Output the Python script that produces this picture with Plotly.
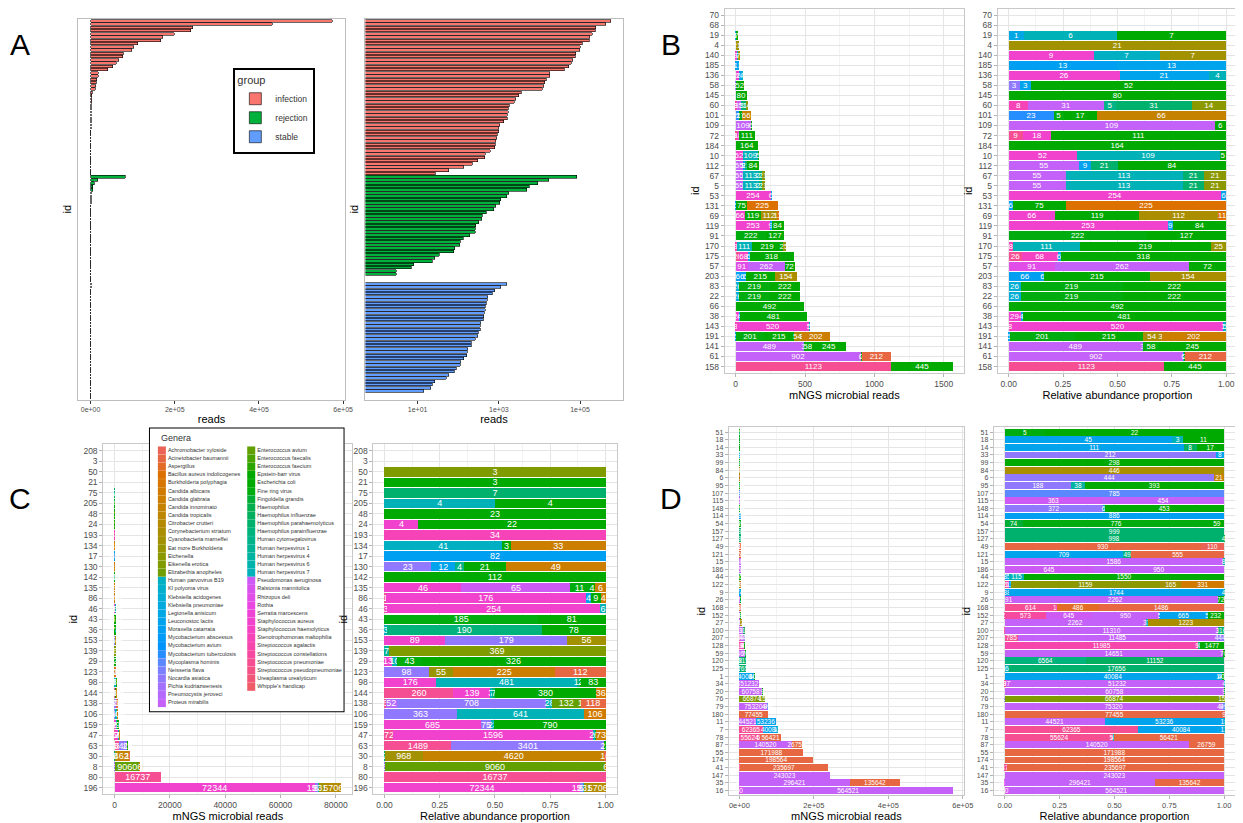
import math
import plotly.graph_objects as go

W, H = 1243, 823
FONT = "Liberation Sans, Arial, sans-serif"

# ---------------- genera (legend order) ----------------
GENERA = [
    "Achromobacter xyloside", "Acinetobacter baumannii", "Aspergillus", "Bacillus aureus indolicogenes",
    "Burkholderia polyphagia", "Candida albicans", "Candida glabrata", "Candida innominato",
    "Candida tropicalis", "Citrobacter crutteri", "Corynebacterium striatum", "Cyanobacteria marneffei",
    "Eat more Burkholderia", "Eichenella", "Eikenella erotica", "Elizabethia anopheles",
    "Enterococcus avium", "Enterococcus faecalis", "Enterococcus faecium", "Epstein-barr virus",
    "Escherichia coli", "Fine ring virus", "Fingoldella grandis", "Haemophilus",
    "Haemophilus influenzae", "Haemophilus parahaemolyticus", "Haemophilus parainfluenzae", "Human cytomegalovirus",
    "Human herpesvirus 1", "Human herpesvirus 4", "Human herpesvirus 6", "Human herpesvirus 7",
    "Human parvovirus B19", "KI polyoma virus", "Klebsiella acidogenes", "Klebsiella pneumoniae",
    "Legionella anisicum", "Leuconostoc lactis", "Moraxella catarrata", "Mycobacterium abscessus",
    "Mycobacterium avium", "Mycobacterium tuberculosis", "Mycoplasma hominis", "Neisseria flava",
    "Nocardia asiatica", "Pichia kudriazwenesis", "Pneumocystis jeroveci", "Proteus mirabilis",
    "Pseudomonas aeruginosa", "Ralstonia mannitolica", "Rhizopus deli", "Rothia",
    "Serratia marcescens", "Staphylococcus aureus", "Staphylococcus haemolyticus", "Stenotrophomonas maltophilia",
    "Streptococcus agalactis", "Streptococcus constellations", "Streptococcus pneumoniae",
    "Streptococcus pseudopneumoniae", "Ureaplasma urealyticum", "Whipple's handicap",
]

# ---------------- panel B (stable) ----------------
b_ids = ["70", "68", "19", "4", "140", "185", "136", "58", "145", "60", "101", "109", "72", "184", "10",
         "112", "67", "5", "53", "131", "69", "119", "91", "170", "175", "57", "203", "83", "22", "66",
         "38", "143", "191", "141", "61", "158"]
b_gen = [[], [], [36, 31, 20], [11], [53, 32, 11], [38, 37], [53, 37, 31], [44, 37, 20], [20],
         [55, 47, 27, 25, 13], [41, 21, 20, 7], [47, 20], [58, 53, 20], [20], [53, 31, 20],
         [47, 37, 25, 20], [47, 31, 25, 13], [47, 31, 25, 13], [53, 37], [37, 20, 3], [53, 20, 10, 3],
         [53, 37, 20], [21, 20], [55, 31, 20, 12], [58, 54, 37, 20], [50, 47, 20], [38, 36, 20, 10],
         [34, 21, 20], [34, 21, 20], [20], [53, 37, 20], [55, 53, 37, 31], [37, 21, 20, 10, 8, 6],
         [47, 44, 21, 20], [47, 31, 20, 1], [58, 20]]
b_val = [[], [], [1, 6, 7], [21], [9, 7, 7], [13, 13], [26, 21, 4], [3, 3, 52], [80],
         [8, 31, 5, 31, 14], [23, 5, 17, 66], [109, 6], [9, 18, 111], [164], [52, 109, 5],
         [55, 9, 21, 84], [55, 113, 21, 21], [55, 113, 21, 21], [254, 6], [6, 75, 225], [66, 119, 112, 11],
         [253, 9, 84], [222, 127], [8, 111, 219, 25], [26, 68, 6, 318], [91, 262, 72], [66, 6, 215, 154],
         [26, 219, 222], [26, 219, 222], [492], [29, 4, 481], [8, 520, 1, 5], [5, 201, 215, 54, 3, 202],
         [489, 3, 58, 245], [902, 6, 2, 212], [1123, 445]]

# ---------------- panel C (rejection) ----------------
c_ids = ["208", "3", "50", "21", "75", "205", "48", "24", "193", "134", "17", "130", "142", "135", "86",
         "46", "43", "36", "153", "139", "29", "123", "98", "144", "138", "106", "159", "47", "63", "30",
         "8", "80", "196"]
c_gen = [[], [], [14], [20], [25], [31, 20], [20], [53, 20], [55], [32, 20, 6], [38], [44, 37, 27, 20, 6],
         [20], [53, 48, 21, 20, 6], [58, 53, 37, 20, 6], [55, 53, 31], [21, 20], [31, 26, 20], [53, 44, 11],
         [28, 14], [53, 31, 21, 20], [44, 12, 6, 1], [53, 31, 25, 21, 20], [58, 53, 44, 31, 25, 20, 5],
         [58, 46, 44, 31, 16, 14, 1], [44, 31, 5], [53, 44, 31, 20], [58, 53, 31, 20, 6], [58, 44, 31, 20],
         [44, 31, 25, 11, 7, 1], [44, 16, 6], [58], [53, 44, 31, 11, 9]]
c_val = [[], [], [3], [3], [7], [4, 4], [23], [4, 22], [34], [41, 3, 33], [82], [23, 12, 4, 21, 49],
         [112], [46, 65, 11, 4, 6], [1, 176, 4, 9, 4], [3, 254, 6], [185, 81], [3, 190, 78], [89, 179, 56],
         [7, 369], [13, 10, 43, 326], [98, 55, 225, 112], [176, 481, 12, 2, 83], [260, 139, 3, 7, 7, 380, 36],
         [6, 52, 708, 28, 132, 1, 118], [363, 641, 106], [685, 75, 23, 790], [72, 1596, 24, 6, 73],
         [1489, 3401, 2, 23], [4, 2, 2, 968, 4620, 16], [5, 9060, 6], [16737], [72344, 1519, 58, 2318, 5706]]

# ---------------- panel D (infection) ----------------
d_ids = ["51", "18", "14", "33", "99", "84", "6", "95", "107", "115", "148", "114", "54", "157", "127",
         "49", "121", "15", "186", "44", "122", "9", "26", "168", "152", "27", "100", "207", "128", "59",
         "120", "125", "1", "34", "20", "76", "79", "180", "11", "7", "78", "87", "55", "174", "41", "147",
         "35", "16"]
d_gen = [[21, 20], [37, 31, 20], [37, 24, 20], [44, 37], [20], [10], [44, 7], [44, 29, 20], [42], [48, 47],
         [44, 31, 20], [38], [22, 21, 20], [25], [25, 23], [1, 0], [37, 26, 1], [47, 31], [48, 47],
         [36, 31, 20], [58, 53, 37, 13, 11, 5], [38, 37, 31], [48, 47, 20], [58, 54, 2, 1],
         [58, 57, 48, 47, 38, 37, 31, 20], [47, 31, 10], [58, 47, 31, 25], [58, 47, 44], [56, 31, 25, 20],
         [47, 20], [26, 24], [31, 25], [37, 31, 20], [58, 48, 47, 31], [47, 20], [44, 14, 13], [47, 44, 42],
         [1, 0], [47, 37, 31], [58, 37, 31], [58, 44, 31, 1], [47, 1], [44, 1], [1], [58, 1], [47],
         [49, 47, 1], [49, 47]]
d_val = [[5, 22], [45, 3, 11], [111, 8, 17], [212, 8], [298], [446], [444, 21], [188, 38, 393], [785],
         [363, 454], [372, 6, 453], [886], [74, 776, 59], [999], [998, 4], [930, 110], [709, 49, 555],
         [1586, 8], [645, 950], [35, 115, 1550], [21, 16, 11, 1159, 165, 331], [38, 1744, 4], [91, 2262, 72],
         [614, 10, 486, 1486], [6, 573, 645, 950, 5, 665, 5, 232], [2262, 37, 1223], [23, 11310, 3, 316],
         [785, 11485, 444], [11985, 1, 98, 1477], [14651, 70], [6564, 11152], [364, 17656], [40084, 144, 400],
         [397, 977, 51232, 4], [60758, 9], [5, 66874, 154], [75320, 440, 99], [77455, 9], [44521, 53236, 18],
         [62365, 40084, 13], [55624, 4, 58, 56421], [140520, 26759], [4, 171988], [198564], [1878, 235697],
         [243023], [89, 296421, 135642], [10072, 564521]]

# groups for panel A
group_names = ["infection", "rejection", "stable"]
group_colors = ["#F8766D", "#00B13C", "#619CFF"]

# axis tick labels
a_lin_ticks = [0, 200000, 400000, 600000]
a_lin_labels = ["0e+00", "2e+05", "4e+05", "6e+05"]
a_log_ticks = [10, 1000, 100000]
a_log_labels = ["1e+01", "1e+03", "1e+05"]
rel_ticks = [0, 0.25, 0.5, 0.75, 1.0]
rel_labels = ["0.00", "0.25", "0.50", "0.75", "1.00"]


# ---------------- colours: ggplot2-style hue palette ----------------
def hcl_hex(h, c=100.0, l=65.0):
    wy, wu, wv = 100.0, 0.1978398, 0.4683363
    hr = math.radians(h)
    U, V = c * math.cos(hr), c * math.sin(hr)
    Y = wy * (((l + 16) / 116) ** 3 if l > 7.999592 else l / 903.3)
    u = U / (13 * l) + wu
    v = V / (13 * l) + wv
    X = 9.0 * Y * u / (4 * v)
    Z = -X / 3 - 5 * Y + 3 * Y / v

    def gam(t):
        t = 1.055 * t ** (1 / 2.4) - 0.055 if t > 0.00304 else 12.92 * t
        return max(0, min(255, round(255 * t)))
    r = gam((3.240479 * X - 1.537150 * Y - 0.498535 * Z) / wy)
    g = gam((-0.969256 * X + 1.875992 * Y + 0.041556 * Z) / wy)
    b = gam((0.055648 * X - 0.204043 * Y + 1.057311 * Z) / wy)
    return "#%02X%02X%02X" % (r, g, b)


NG = len(GENERA)
COLORS = [hcl_hex(15 + 360.0 * i / NG, c=108, l=59) for i in range(NG)]

fig = go.Figure()


def add_stacked(ids, gens, vals, xa, ya, rel, tsize):
    totals = [sum(v) for v in vals]
    used = sorted({g for gl in gens for g in gl}, reverse=True)
    for g in used:
        xs, ts = [], []
        for gl, vl, tot in zip(gens, vals, totals):
            if g in gl:
                v = vl[gl.index(g)]
                xs.append(v / tot if rel else v)
                ts.append(str(v))
            else:
                xs.append(None)
                ts.append("")
        fig.add_trace(go.Bar(
            y=ids, x=xs, orientation="h", xaxis=xa, yaxis=ya, width=0.9,
            marker=dict(color=COLORS[g], line=dict(width=0)),
            text=ts, textposition="inside", insidetextanchor="middle", textangle=0,
            constraintext="none", cliponaxis=True,
            textfont=dict(color="white", size=tsize, family=FONT),
            name=GENERA[g], showlegend=False, hoverinfo="name+x"))


# Panel A
pos = 0
for name, col, vals in zip(group_names, group_colors, [d_val, c_val, b_val]):
    tot = sorted([sum(v) for v in vals], reverse=True)
    ys = list(range(pos, pos + len(tot)))
    pos += len(tot)
    fig.add_trace(go.Bar(x=tot, y=ys, orientation="h", xaxis="x", yaxis="y", width=0.8,
                         marker=dict(color=col, line=dict(color="black", width=0.6)),
                         name=name, legendgroup=name, showlegend=True))
    fig.add_trace(go.Bar(x=[t if t > 0 else None for t in tot], y=ys, orientation="h", xaxis="x2",
                         yaxis="y2", width=0.8, marker=dict(color=col, line=dict(color="black", width=0.6)),
                         name=name, legendgroup=name, showlegend=False))
n_a = pos

# Panels B, C, D
add_stacked(b_ids, b_gen, b_val, "x3", "y3", False, 8)
add_stacked(b_ids, b_gen, b_val, "x4", "y4", True, 8)
add_stacked(c_ids, c_gen, c_val, "x5", "y5", False, 9)
add_stacked(c_ids, c_gen, c_val, "x6", "y6", True, 9)
add_stacked(d_ids, d_gen, d_val, "x7", "y7", False, 6.5)
add_stacked(d_ids, d_gen, d_val, "x8", "y8", True, 6.5)

# Genera legend box (own hidden axes, coordinates in px inside the box)
BOX_W, BOX_H = 197, 285
fig.add_trace(go.Scatter(x=[0, BOX_W, BOX_W, 0, 0], y=[0, 0, BOX_H, BOX_H, 0], mode="lines",
                         fill="toself", fillcolor="white", line=dict(color="black", width=2),
                         xaxis="x9", yaxis="y9", showlegend=False, hoverinfo="skip", cliponaxis=False))
left_col = list(range(0, 16)) + list(range(32, 48))
right_col = list(range(16, 32)) + list(range(48, 62))
lx, ly, lc, lt = [], [], [], []
for colx, items in [(13, left_col), (103, right_col)]:
    for k, g in enumerate(items):
        lx.append(colx)
        ly.append(23 + k * 8.16)
        lc.append(COLORS[g])
        lt.append(GENERA[g])
fig.add_trace(go.Scatter(x=lx, y=ly, mode="markers+text", text=lt, textposition="middle right",
                         textfont=dict(size=5.5, color="#333333", family=FONT),
                         marker=dict(symbol="square", size=8, color=lc, line=dict(width=0)),
                         xaxis="x9", yaxis="y9", showlegend=False, hoverinfo="text", cliponaxis=False))


def dx(a, b):
    return [a / W, b / W]


def dy(top, bot):
    return [max(0.0, 1 - bot / H), min(1.0, 1 - top / H)]


GRID, MINOR, FRAME, TICKC = "#E5E5E5", "#F3F3F3", "#C8C8C8", "#4D4D4D"


def title(t, sz=11, st=3):
    return dict(text=t, font=dict(size=sz, color="black", family=FONT), standoff=st)


def xax(domain, anchor, rng, tv, tt, mv, t, tfs=8.5):
    return dict(domain=domain, anchor=anchor, range=rng, tickmode="array", tickvals=tv, ticktext=tt,
                showgrid=True, gridcolor=GRID, gridwidth=1, zeroline=False,
                minor=dict(tickvals=mv, showgrid=True, gridcolor=MINOR, gridwidth=0.5),
                showline=True, mirror=True, linecolor=FRAME, linewidth=1,
                ticks="outside", ticklen=3, tickcolor="#B3B3B3",
                tickfont=dict(size=tfs, color=TICKC, family=FONT), title=title(t, st=2))


def yax(domain, anchor, ids, tfs):
    n = len(ids)
    return dict(domain=domain, anchor=anchor, type="category", categoryorder="array",
                categoryarray=ids, range=[n - 0.4, -0.6], tickmode="linear", tick0=0, dtick=1,
                showgrid=True, gridcolor=GRID, gridwidth=1, zeroline=False,
                showline=True, mirror=True, linecolor=FRAME, linewidth=1,
                ticks="outside", ticklen=3, tickcolor="#B3B3B3",
                tickfont=dict(size=tfs, color=TICKC, family=FONT), title=title("id"))


def a_yax(domain, anchor):
    return dict(domain=domain, anchor=anchor, range=[n_a - 0.4, -0.6], showticklabels=False,
                showgrid=False, zeroline=False, ticks="", showline=True, mirror=True,
                linecolor="#BDBDBD", linewidth=1, title=title("id"))


b_max = max(sum(v) for v in b_val)
c_max = max(sum(v) for v in c_val)
d_max = max(sum(v) for v in d_val)
a_max = max(c_max, d_max, b_max)
a_log_max = math.log10(a_max)

letter_font = dict(size=30, color="black", family=FONT)
layout = dict(
    width=W, height=H, margin=dict(l=0, r=0, t=0, b=0),
    paper_bgcolor="white", plot_bgcolor="white", barmode="stack", bargap=0.1,
    font=dict(family=FONT, color="black"),
    xaxis=dict(domain=dx(71, 339), anchor="y", range=[-0.05 * a_max, 1.05 * a_max],
               tickmode="array", tickvals=a_lin_ticks, ticktext=a_lin_labels, showgrid=False,
               zeroline=False, showline=True, mirror=True, linecolor="#BDBDBD", ticks="outside",
               ticklen=3, tickcolor="#333333", tickfont=dict(size=7, color=TICKC), title=title("reads")),
    yaxis=a_yax(dy(10, 391), "x"),
    xaxis2=dict(domain=dx(360, 619), anchor="y2", type="log",
                range=[-0.05 * a_log_max, 1.05 * a_log_max], tickmode="array", tickvals=a_log_ticks,
                ticktext=a_log_labels, showgrid=False, zeroline=False, showline=True, mirror=True,
                linecolor="#BDBDBD", ticks="outside", ticklen=3, tickcolor="#333333",
                tickfont=dict(size=7, color=TICKC), title=title("reads")),
    yaxis2=a_yax(dy(10, 391), "x2"),
    xaxis3=xax(dx(722, 963), "y3", [-0.05 * b_max, 1.05 * b_max], [0, 500, 1000, 1500],
               ["0", "500", "1000", "1500"], [250, 750, 1250], "mNGS microbial reads"),
    yaxis3=yax(dy(0, 364), "x3", b_ids, 8.5),
    xaxis4=xax(dx(997, 1238), "y4", [-0.05, 1.05], rel_ticks, rel_labels,
               [0.125, 0.375, 0.625, 0.875], "Relative abundance proportion"),
    yaxis4=yax(dy(0, 364), "x4", b_ids, 8.5),
    xaxis5=xax(dx(96, 347), "y5", [-0.05 * c_max, 1.05 * c_max], [0, 20000, 40000, 60000, 80000],
               ["0", "20000", "40000", "60000", "80000"], [10000, 30000, 50000, 70000],
               "mNGS microbial reads"),
    yaxis5=yax(dy(436, 786), "x5", c_ids, 8.5),
    xaxis6=xax(dx(368, 613), "y6", [-0.05, 1.05], rel_ticks, rel_labels,
               [0.125, 0.375, 0.625, 0.875], "Relative abundance proportion"),
    yaxis6=yax(dy(436, 786), "x6", c_ids, 8.5),
    xaxis7=xax(dx(726, 963), "y7", [-0.05 * d_max, 1.05 * d_max], a_lin_ticks, a_lin_labels,
               [100000, 300000, 500000], "mNGS microbial reads", 7.5),
    yaxis7=yax(dy(419, 787), "x7", d_ids, 7),
    xaxis8=xax(dx(993, 1236), "y8", [-0.05, 1.05], rel_ticks, rel_labels,
               [0.125, 0.375, 0.625, 0.875], "Relative abundance proportion", 7.5),
    yaxis8=yax(dy(419, 787), "x8", d_ids, 7),
    xaxis9=dict(domain=dx(142, 339), anchor="y9", range=[0, BOX_W], visible=False, fixedrange=True),
    yaxis9=dict(domain=dy(419, 704), anchor="x9", range=[BOX_H, 0], visible=False, fixedrange=True),
    legend=dict(x=227 / W, y=1 - 59 / H, xanchor="left", yanchor="top", bordercolor="black",
                borderwidth=2, bgcolor="white", title=dict(text="group", font=dict(size=11)),
                font=dict(size=8.5, color="#333333"), traceorder="normal", tracegroupgap=2),
    annotations=[
        dict(text="A", x=12 / W, y=1 - 36 / H, xref="paper", yref="paper", showarrow=False,
             xanchor="center", yanchor="middle", font=letter_font),
        dict(text="B", x=668 / W, y=1 - 36 / H, xref="paper", yref="paper", showarrow=False,
             xanchor="center", yanchor="middle", font=letter_font),
        dict(text="C", x=12 / W, y=1 - 490 / H, xref="paper", yref="paper", showarrow=False,
             xanchor="center", yanchor="middle", font=letter_font),
        dict(text="D", x=668 / W, y=1 - 490 / H, xref="paper", yref="paper", showarrow=False,
             xanchor="center", yanchor="middle", font=letter_font),
        dict(text="Genera", x=10, y=11, xref="x9", yref="y9", xanchor="left", showarrow=False,
             font=dict(size=9, color="#333333", family=FONT)),
    ],
)
fig.update_layout(**layout)
fig.write_html("out.html")
